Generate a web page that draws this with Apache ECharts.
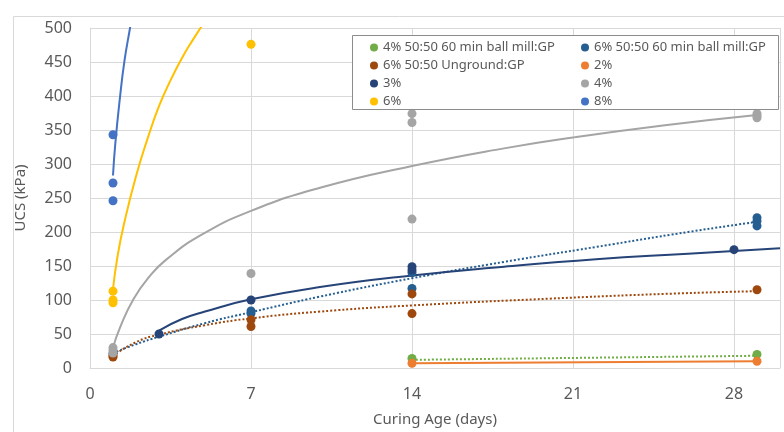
<!DOCTYPE html>
<html>
<head>
<meta charset="utf-8">
<style>
html, body { margin: 0; padding: 0; background: #fff; }
#chart { width: 784px; height: 432px; }
</style>
<script src="https://cdn.jsdelivr.net/npm/echarts@6/dist/echarts.min.js"></script>
</head>
<body>
<div id="chart"></div>
<script>
// measured points [curing age (days), UCS (kPa)]
var gp4 = [[14, 14], [29, 20]];
var gp6 = [[1, 21], [7, 84], [7, 80], [14, 140], [14, 117], [29, 221], [29, 216], [29, 209]];
var ung6 = [[1, 16], [1, 18], [7, 71], [7, 61], [14, 109], [14, 80], [29, 115]];
var p2 = [[14, 7], [29, 10]];
var p3 = [[3, 50], [7, 100], [14, 149], [14, 144], [28, 174]];
var p4 = [[1, 30], [1, 26], [1, 22], [7, 139], [14, 374], [14, 361], [14, 219], [29, 374], [29, 371], [29, 368]];
var p6 = [[1, 113], [1, 100], [1, 96], [7, 476]];
var p8 = [[1, 343], [1, 272], [1, 246]];

// trendlines
var tGp4 = [[14, 12], [29, 18]];
var tGp6 = [[1, 22], [2, 35], [3, 46], [5, 66], [7, 82], [10, 105], [14, 132], [18, 156], [22, 178], [26, 200], [29, 215]];
var tUng6 = [[1, 18], [2, 38], [3, 49], [5, 63], [7, 73], [10, 83], [14, 92], [20, 102], [25, 109], [29, 113]];
var t2 = [[14, 7], [29, 10]];
var t3 = [[3, 55], [4, 72], [5, 83], [7, 101], [10, 119], [14, 136], [18, 149], [22, 160], [26, 168], [30, 176]];
var t4 = [[1, 30], [1.3, 59], [1.9, 102], [2.6, 135], [3.3, 159], [4.8, 195], [7, 231], [10, 265], [14, 297], [18, 323], [21, 339], [25, 357], [29, 372]];
var t6 = [[1, 116], [1.2, 165], [1.5, 215], [2, 282], [2.5, 337], [3, 385], [3.5, 423], [4, 456], [4.5, 484], [5, 510]];
var t8 = [[1, 283], [1.1, 330], [1.3, 397], [1.5, 452], [1.74, 500], [1.85, 522]];

var xTicks = [0, 7, 14, 21, 28];

var names = ['4% 50:50 60 min ball mill:GP', '6% 50:50 60 min ball mill:GP', '6% 50:50 Unground:GP', '2%', '3%', '4%', '6%', '8%'];
var colors = ['#70AD47', '#255E91', '#9E480E', '#ED7D31', '#264478', '#A5A5A5', '#FFC000', '#4472C4'];
var points = [gp4, gp6, ung6, p2, p3, p4, p6, p8];
var trends = [tGp4, tGp6, tUng6, t2, t3, t4, t6, t8];
var dotted = [true, true, true, false, false, false, false, false];

var txt = '#595959';
var font = 'Noto Sans';

var series = [];
for (var i = 0; i < names.length; i++) {
    series.push({
        name: 'trend ' + i,
        type: 'line',
        data: trends[i],
        smooth: 0.5,
        showSymbol: false,
        silent: true,
        z: 2,
        lineStyle: {
            color: colors[i],
            width: 2,
            type: dotted[i] ? [2, 2] : 'solid'
        }
    });
}
for (var j = 0; j < names.length; j++) {
    series.push({
        name: names[j],
        type: 'scatter',
        data: points[j],
        symbol: 'circle',
        symbolSize: 9,
        z: 3,
        itemStyle: { color: colors[j], opacity: 1 }
    });
}

var legendBase = {
    orient: 'vertical',
    top: 36,
    z: 10,
    icon: 'circle',
    itemWidth: 8,
    itemHeight: 8,
    itemGap: 5,
    textStyle: { color: txt, fontFamily: font, fontSize: 13, lineHeight: 13 }
};

var chart = echarts.init(document.getElementById('chart'));
chart.setOption({
    animation: false,
    backgroundColor: '#fff',
    textStyle: { fontFamily: font },
    grid: { left: 90, right: 4, top: 28, bottom: 54 },
    legend: [
        Object.assign({}, legendBase, { left: 365, data: [names[0], names[2], names[4], names[6]] }),
        Object.assign({}, legendBase, { left: 576, data: [names[1], names[3], names[5], names[7]] })
    ],
    graphic: [
        { type: 'rect', left: 11, top: 14, shape: { width: 790, height: 440 }, style: { fill: 'none', stroke: '#D9D9D9', lineWidth: 1 }, silent: true, z: -1 },
        { type: 'rect', left: 352, top: 35, shape: { width: 426, height: 74 }, style: { fill: '#fff', stroke: '#8C8C8C', lineWidth: 1 }, silent: true, z: 4 }
    ],
    xAxis: {
        type: 'value',
        min: xTicks[0],
        max: 30,
        interval: 7,
        name: 'Curing Age (days)',
        nameLocation: 'middle',
        nameGap: 44,
        nameTextStyle: { color: txt, fontSize: 15, fontFamily: font },
        axisLine: { show: true, lineStyle: { color: '#D9D9D9' } },
        axisTick: { show: false },
        axisLabel: { color: txt, fontSize: 16, fontFamily: font, margin: 18, showMaxLabel: false },
        splitLine: { show: true, lineStyle: { color: '#D9D9D9' } }
    },
    yAxis: {
        type: 'value',
        min: 0,
        max: 500,
        interval: 50,
        name: 'UCS (kPa)',
        nameLocation: 'middle',
        nameGap: 62,
        nameTextStyle: { color: txt, fontSize: 15, fontFamily: font },
        axisLine: { show: true, lineStyle: { color: '#D9D9D9' } },
        axisTick: { show: false },
        axisLabel: { color: txt, fontSize: 16, fontFamily: font, margin: 18 },
        splitLine: { show: true, lineStyle: { color: '#D9D9D9' } }
    },
    series: series
});
</script>
</body>
</html>
